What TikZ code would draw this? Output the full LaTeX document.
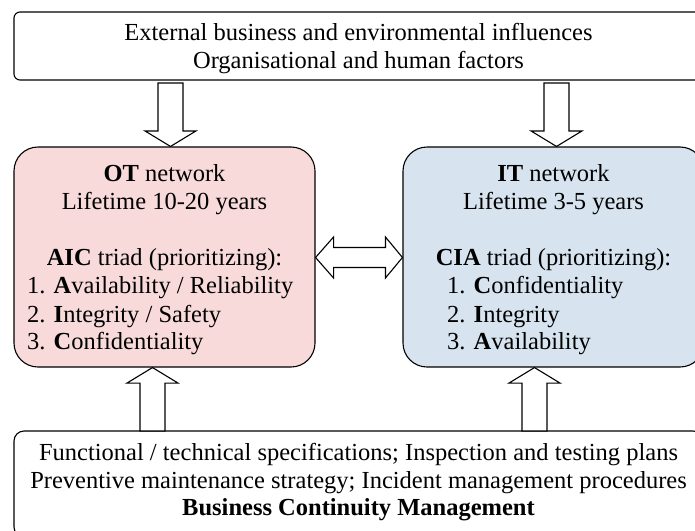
\documentclass[tikz,border=0pt]{standalone}
\usepackage{fontspec}
\setmainfont{Liberation Serif}
\usetikzlibrary{calc}
\definecolor{otpink}{HTML}{F8DADA}
\definecolor{itblue}{HTML}{D7E4EF}
\tikzset{
  box/.style={draw=black, line width=1.1pt, inner sep=0pt},
  txt/.style={inner sep=0pt, font=\fontsize{24.5}{28}\selectfont},
  blk/.style={draw=black, line width=1.1pt, fill=white, line join=miter},
}
\newcommand{\vblockarrow}[2]{%
  \draw[blk] let \p1=(#1), \p2=(#2), \n1={ifthenelse(\y2<\y1,1,-1)} in
    (\x1-12.5pt,\y1) -- (\x1+12.5pt,\y1) -- (\x1+12.5pt,\y2+\n1*15.5pt)
    -- (\x1+25.5pt,\y2+\n1*15.5pt) -- (\x1,\y2) -- (\x1-25.5pt,\y2+\n1*15.5pt)
    -- (\x1-12.5pt,\y2+\n1*15.5pt) -- cycle;}
\begin{document}
\begin{tikzpicture}[x=1pt,y=-1pt]
\useasboundingbox (0,0) rectangle (695,530);
\clip (0,0) rectangle (695,530);
% boxes
\node[box, rounded corners=6pt, minimum width=689pt, minimum height=68pt] (top) at (358.5,46) {};
\node[box, rounded corners=24pt, fill=otpink, minimum width=301pt, minimum height=220pt] (OT) at (164.5,257) {};
\node[box, rounded corners=24pt, fill=itblue, minimum width=301pt, minimum height=220pt] (IT) at (553.5,257) {};
\node[box, rounded corners=10pt, minimum width=689pt, minimum height=106pt] (bot) at (358.5,484) {};
% top texts
\node[txt, anchor=base] (t1) at (358.5,40) {External business and environmental influences};
\node[txt, anchor=base] (t2) at (358.5,68) {Organisational and human factors};
% OT texts
\node[txt, anchor=base] (o1) at (164.5,181) {\textbf{OT} network};
\node[txt, anchor=base] (o2) at (164.5,209) {Lifetime 10-20 years};
\node[txt, anchor=base] (o3) at (164.5,265) {\textbf{AIC} triad (prioritizing):};
\node[txt, anchor=base west] (o4) at (27,293) {1. \textbf{A}vailability / Reliability};
\node[txt, anchor=base west] (o5) at (27,322) {2. \textbf{I}ntegrity / Safety};
\node[txt, anchor=base west] (o6) at (27,349) {3. \textbf{C}onfidentiality};
% IT texts
\node[txt, anchor=base] (i1) at (553.5,181) {\textbf{IT} network};
\node[txt, anchor=base] (i2) at (553.5,209) {Lifetime 3-5 years};
\node[txt, anchor=base] (i3) at (553.5,265) {\textbf{CIA} triad (prioritizing):};
\node[txt, anchor=base west] (i4) at (447,293) {1. \textbf{C}onfidentiality};
\node[txt, anchor=base west] (i5) at (447,322) {2. \textbf{I}ntegrity};
\node[txt, anchor=base west] (i6) at (447,349) {3. \textbf{A}vailability};
% bottom texts
\node[txt, anchor=base] (b1) at (358.5,460) {Functional / technical specifications; Inspection and testing plans};
\node[txt, anchor=base] (b2) at (358.5,488) {Preventive maintenance strategy; Incident management procedures};
\node[txt, anchor=base] (b3) at (358.5,515) {\textbf{Business Continuity Management}};
% arrow anchor coordinates
\coordinate (d1) at (170.5,83);
\coordinate (d2) at (556.5,83);
\coordinate (u1) at (152.5,431);
\coordinate (u2) at (534.5,431);
% down arrows
\vblockarrow{d1}{d1 |- OT.north}
\vblockarrow{d2}{d2 |- IT.north}
% up arrows
\vblockarrow{u1}{u1 |- OT.south}
\vblockarrow{u2}{u2 |- IT.south}
% double horizontal arrow
\coordinate (hm) at (359,257.5);
\draw[blk] let \p1=(OT.east |- hm), \p2=(IT.west |- hm) in
  (\x1,\y1) -- (\x1+18pt,\y1+20.5pt) -- (\x1+18pt,\y1+10pt) -- (\x2-17pt,\y1+10pt)
  -- (\x2-17pt,\y1+20.5pt) -- (\x2,\y2) -- (\x2-17pt,\y1-20.5pt) -- (\x2-17pt,\y1-10pt)
  -- (\x1+18pt,\y1-10pt) -- (\x1+18pt,\y1-20.5pt) -- cycle;
\end{tikzpicture}
\end{document}
